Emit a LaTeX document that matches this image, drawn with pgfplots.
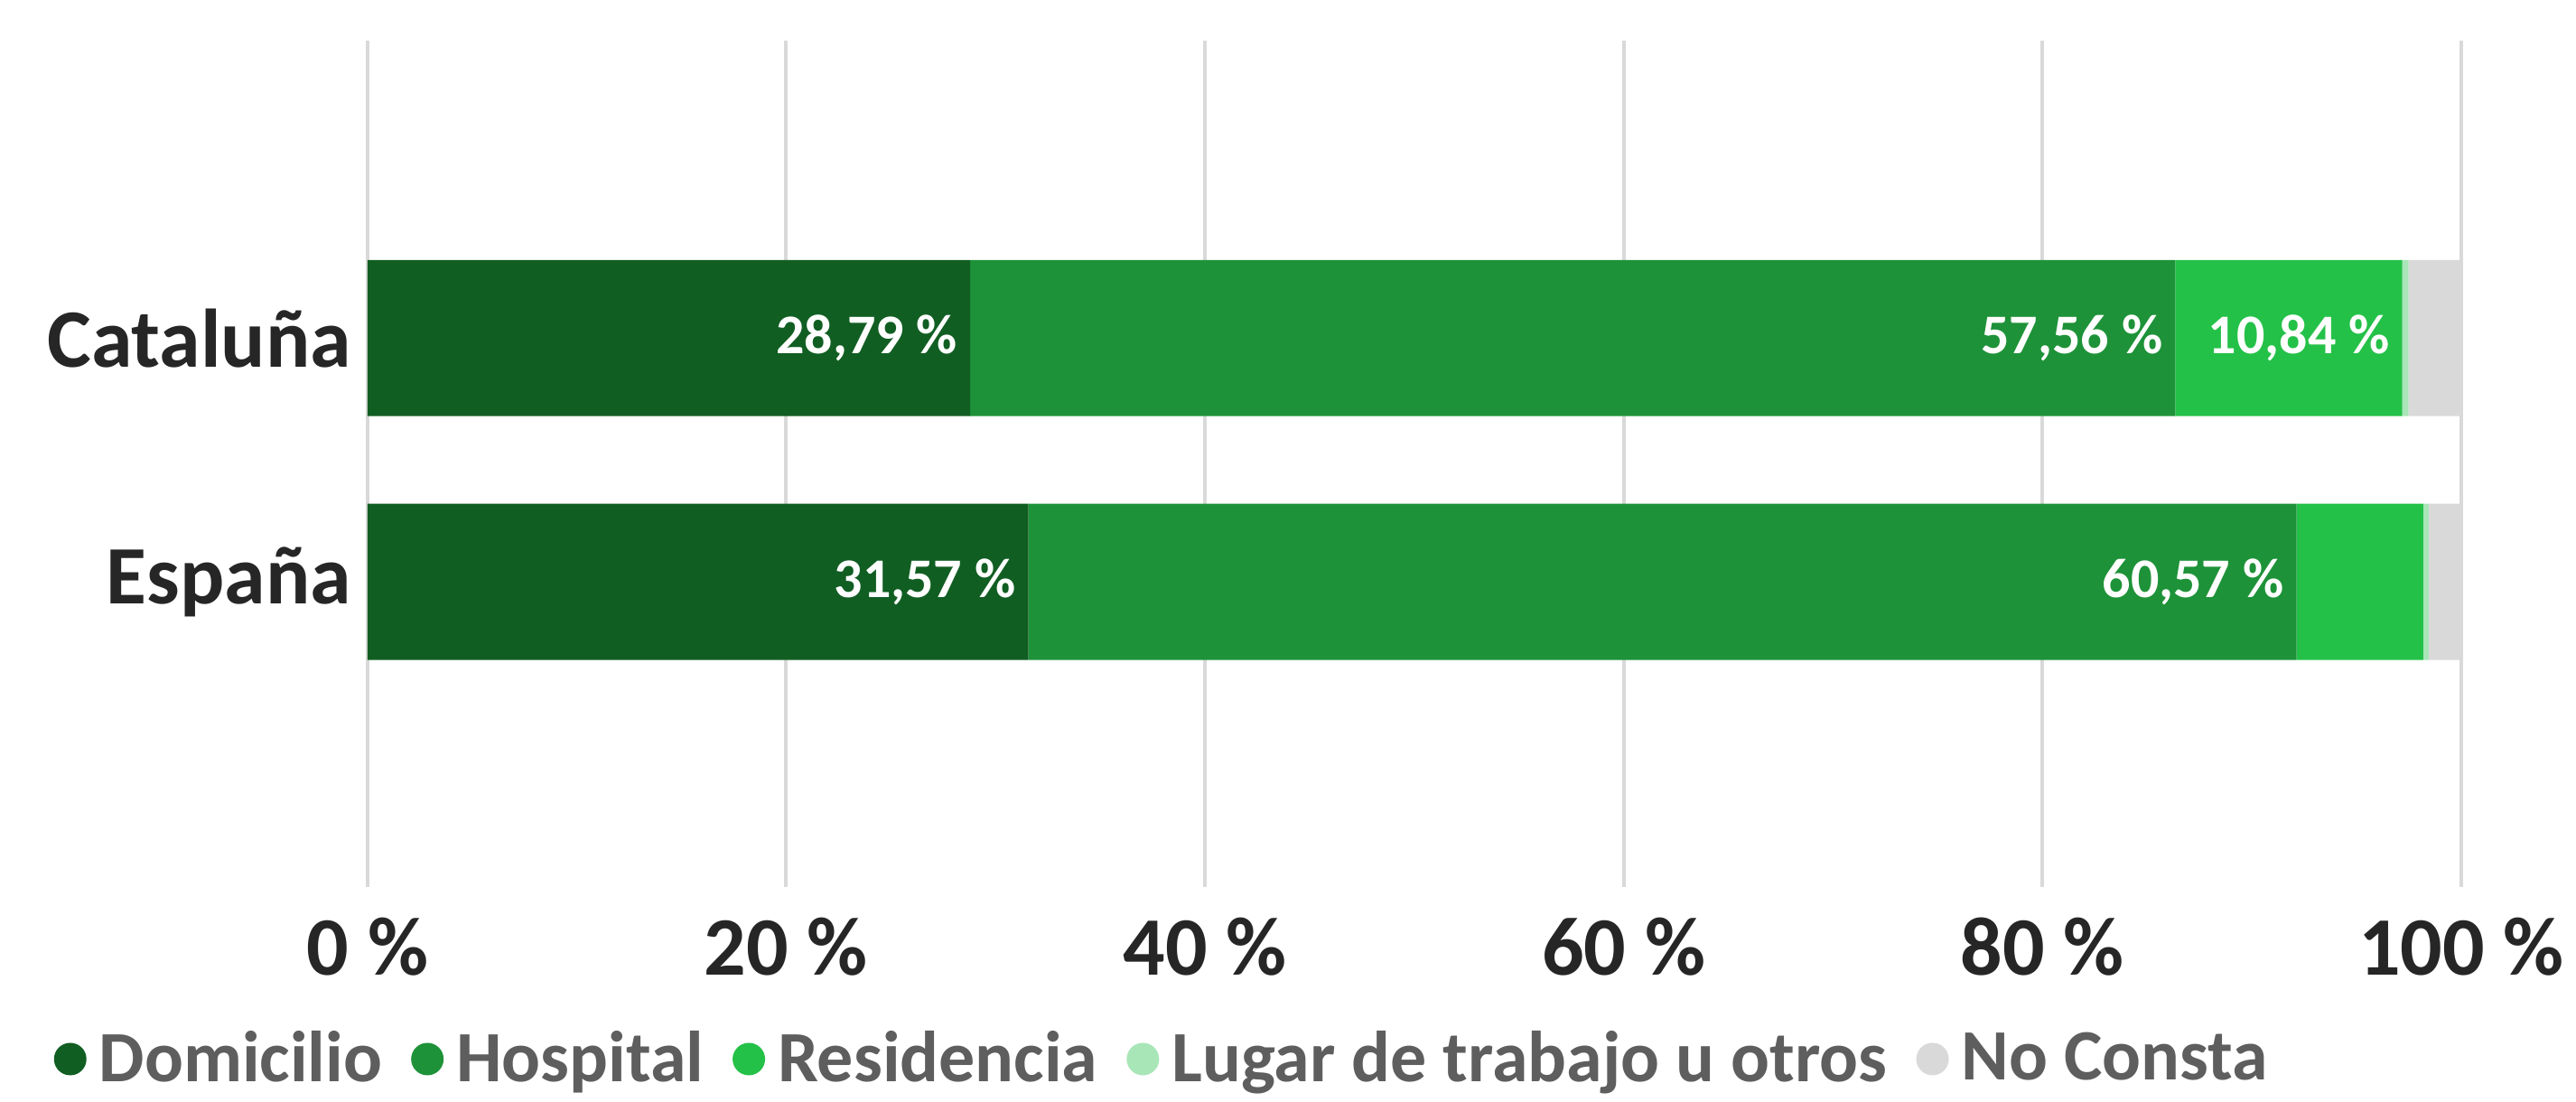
\documentclass[border=0pt]{standalone}
\usepackage{pgfplots}
\pgfplotsset{compat=1.18}
\pgfplotsset{compat/bar nodes=1.8}
\usepackage{fontspec}
\setmainfont{Carlito}
\definecolor{cDom}{HTML}{115E23}
\definecolor{cHos}{HTML}{1E9238}
\definecolor{cRes}{HTML}{24C148}
\definecolor{cLug}{HTML}{A8E6B8}
\definecolor{cNoc}{HTML}{D9D9D9}
\definecolor{txt}{HTML}{262626}
\definecolor{leg}{HTML}{5E5E5E}
\begin{document}
\begin{tikzpicture}
\begin{axis}[
  name=ax,
  xbar stacked, bar width=43.25pt,
  scale only axis, width=579.75pt, height=234.25pt,
  xmin=0, xmax=100, ymin=-1.25, ymax=2.22,
  xtick={0,20,40,60,80,100},
  xticklabels={0 \%,20 \%,40 \%,60 \%,80 \%,100 \%},
  ytick={0,1}, yticklabels={España,Cataluña},
  xmajorgrids, major grid style={cNoc, line width=1pt},
  axis line style={draw=none}, tick style={draw=none},
  xticklabel style={font=\bfseries\fontsize{23}{26}\selectfont, text=txt, yshift=-5pt},
  yticklabel style={font=\bfseries\fontsize{23}{26}\selectfont, text=txt, xshift=-1pt},
  nodes near coords,
  point meta=explicit symbolic,
  every node near coord/.append style={font=\bfseries\fontsize{15.5}{18}\selectfont, text=white, anchor=east, xshift=0pt},
  legend columns=5,
  legend style={draw=none, at={(axis description cs:0,0)}, anchor=west,
    xshift=-90pt, yshift=-47.75pt,
    font=\bfseries\fontsize{20}{24}\selectfont, text=leg,
    /tikz/every even column/.append style={column sep=6pt},
    /tikz/every odd column/.append style={column sep=1.5pt}},
  legend image code/.code={\fill[draw=none] (4pt,0pt) circle (4.5pt);},
]
\addplot[fill=cDom, draw=none] coordinates {(31.57,0) [31,57 \%] (28.79,1) [28,79 \%]};
\addplot[fill=cHos, draw=none] coordinates {(60.57,0) [60,57 \%] (57.56,1) [57,56 \%]};
\addplot[fill=cRes, draw=none] coordinates {(6.05,0) [] (10.84,1) [10,84 \%]};
\addplot[fill=cLug, draw=none] coordinates {(0.26,0) [] (0.30,1) []};
\addplot[fill=cNoc, draw=none] coordinates {(1.55,0) [] (2.51,1) []};
\legend{Domicilio,Hospital,Residencia,Lugar de trabajo u otros,No Consta}
\end{axis}
\path[use as bounding box] ([xshift=-101.75pt,yshift=-58pt]ax.south west) rectangle ([xshift=31.5pt,yshift=11.25pt]ax.north east);
\end{tikzpicture}
\end{document}
